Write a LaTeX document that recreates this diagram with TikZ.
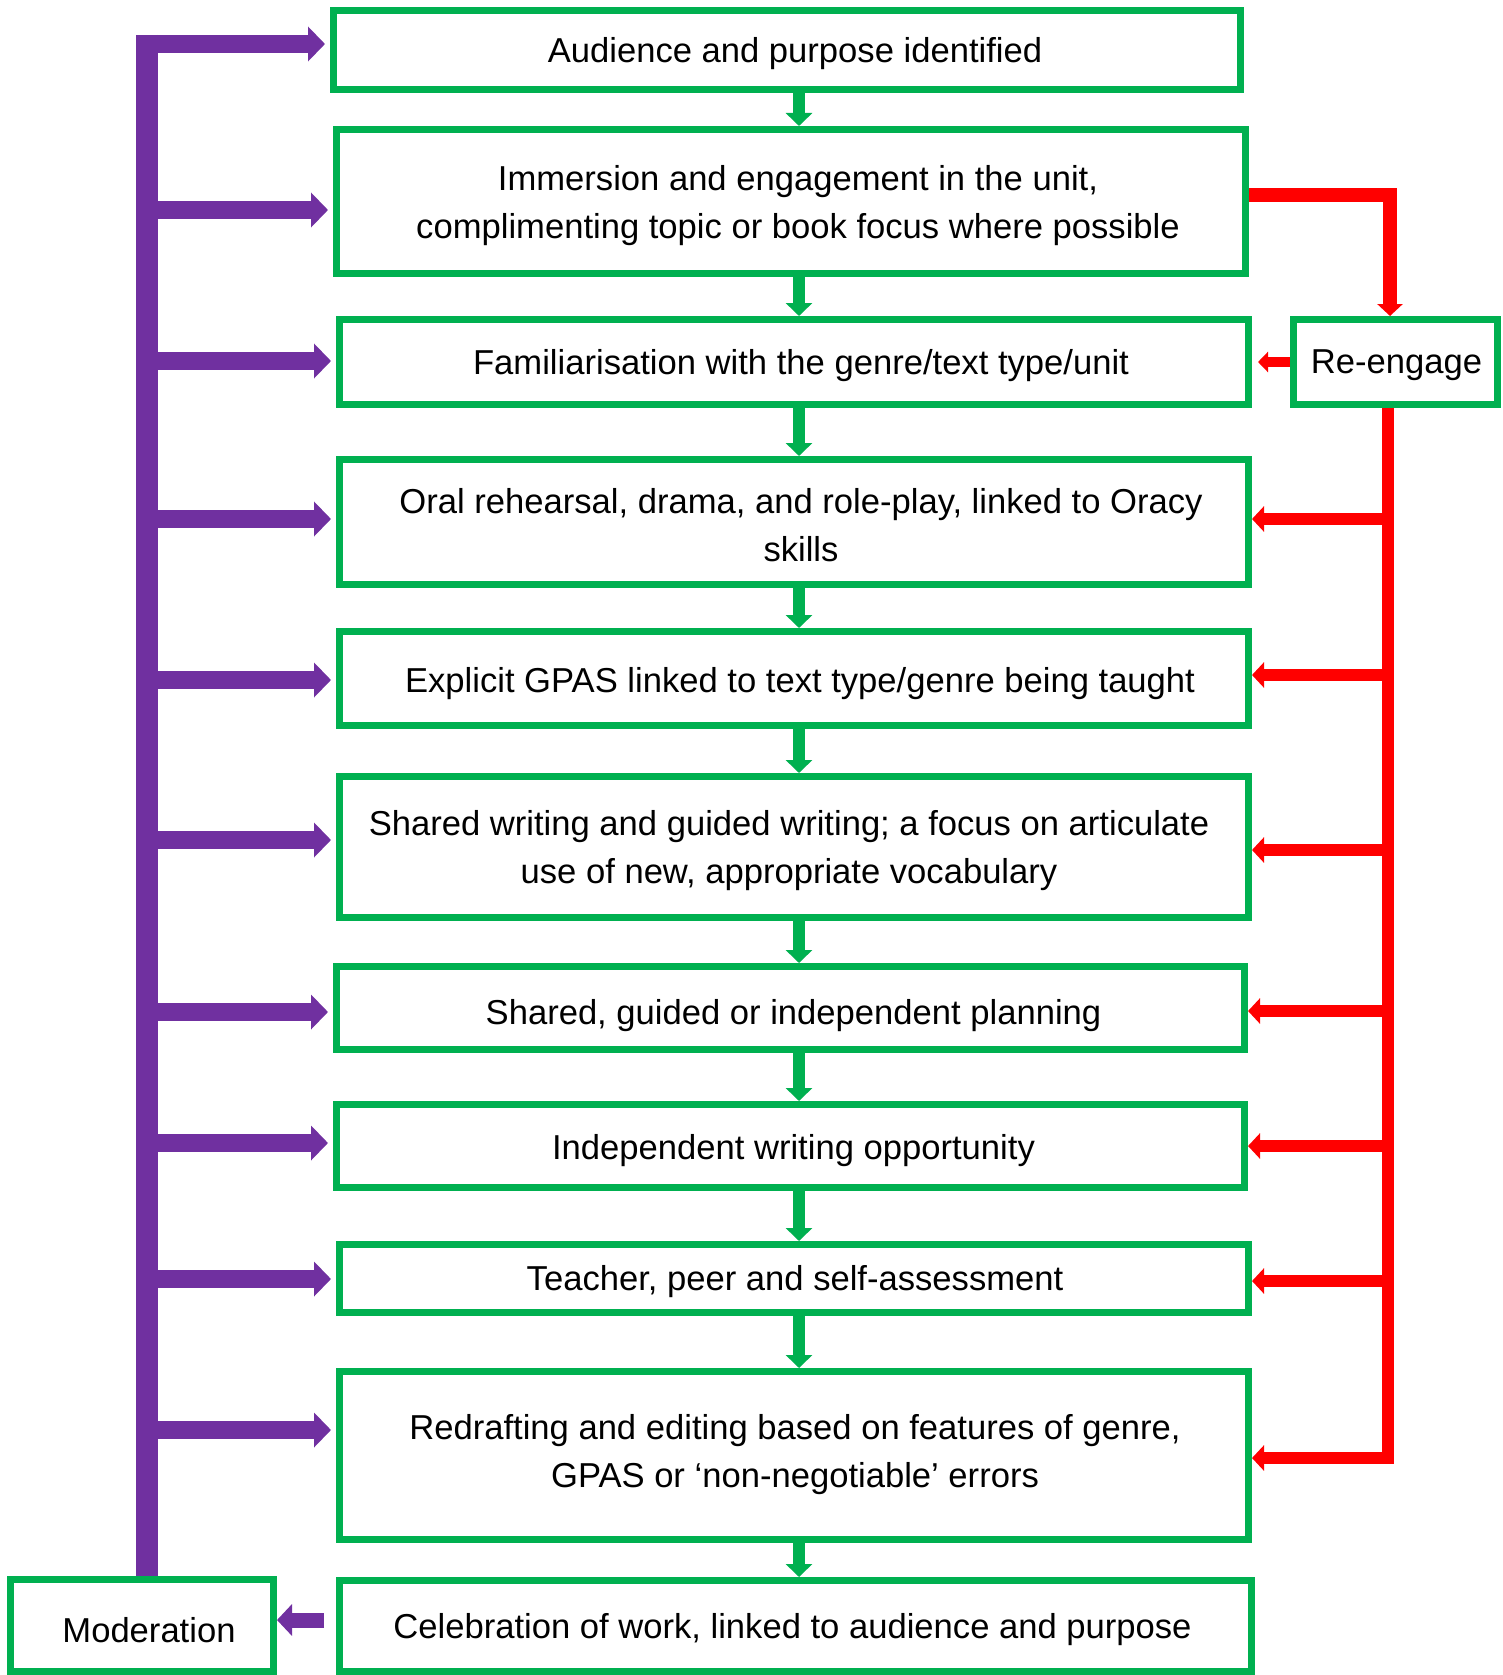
\documentclass[tikz,border=0pt]{standalone}
\usepackage{fontspec}
\setmainfont{Liberation Sans}
\usetikzlibrary{arrows.meta}
\definecolor{gr}{HTML}{00B050}
\definecolor{pu}{HTML}{7030A0}
\definecolor{rd}{HTML}{FF0000}
\begin{document}
\begin{tikzpicture}[x=1pt,y=-1pt,
  gbox/.style={draw=gr, line width=7pt, inner sep=0pt},
  txt/.style={inner sep=0pt, align=center, font=\fontsize{34.6}{48}\selectfont},
  garr/.style={draw=gr, line width=12pt, -{Triangle[length=13pt,width=26pt]}},
  parr/.style={draw=pu, line width=18pt, -{Triangle[length=17pt,width=34pt]}, shorten >=5pt},
  rarr/.style={draw=rd, line width=12pt, -{Triangle[length=12pt,width=25pt]}},
]
\useasboundingbox (0,0) rectangle (1503,1675);
\clip (0,0) rectangle (1503,1675);

\node[gbox, minimum width=907pt, minimum height=79pt] (b1) at (787,50) {};
\node[gbox, minimum width=909pt, minimum height=144pt] (b2) at (791,201.5) {};
\node[gbox, minimum width=909pt, minimum height=85pt] (b3) at (794,362) {};
\node[gbox, minimum width=909pt, minimum height=125pt] (b4) at (794,522) {};
\node[gbox, minimum width=909pt, minimum height=94pt] (b5) at (794,678.5) {};
\node[gbox, minimum width=909pt, minimum height=141pt] (b6) at (794,847) {};
\node[gbox, minimum width=908pt, minimum height=83pt] (b7) at (790.5,1008) {};
\node[gbox, minimum width=908pt, minimum height=83pt] (b8) at (790.5,1146) {};
\node[gbox, minimum width=909pt, minimum height=68pt] (b9) at (794,1278.5) {};
\node[gbox, minimum width=909pt, minimum height=168pt] (b10) at (794,1455.5) {};
\node[gbox, minimum width=912pt, minimum height=91pt] (b11) at (795.5,1626) {};
\node[gbox, minimum width=263pt, minimum height=92pt] (mod) at (142,1625.5) {};
\node[gbox, minimum width=204pt, minimum height=85pt] (re) at (1395.5,362) {};

\node[txt] (t1) at ([shift={(8,4)}]b1.center) {Audience and purpose identified};
\node[txt] (t2) at ([shift={(7,4)}]b2.center) {Immersion and engagement in the unit,\\complimenting topic or book focus where possible};
\node[txt] (t3) at ([shift={(7,4)}]b3.center) {Familiarisation with the genre/text type/unit};
\node[txt] (t4) at ([shift={(7,3)}]b4.center) {Oral rehearsal, drama, and role-play, linked to Oracy\\skills};
\node[txt] (t5) at ([shift={(6,5)}]b5.center) {Explicit GPAS linked to text type/genre being taught};
\node[txt] (t6) at ([shift={(-5,4)}]b6.center) {Shared writing and guided writing; a focus on articulate\\use of new, appropriate vocabulary};
\node[txt] (t7) at ([shift={(3,8)}]b7.center) {Shared, guided or independent planning};
\node[txt] (t8) at ([shift={(3,5)}]b8.center) {Independent writing opportunity};
\node[txt] (t9) at ([shift={(1,3)}]b9.center) {Teacher, peer and self-assessment};
\node[txt] (t10) at ([shift={(1,-1)}]b10.center) {Redrafting and editing based on features of genre,\\GPAS or ‘non-negotiable’ errors};
\node[txt] (t11) at ([shift={(-3,4)}]b11.center) {Celebration of work, linked to audience and purpose};
\node[txt] (tm) at ([shift={(7,5)}]mod.center) {Moderation};
\node[txt] (tr) at ([shift={(1,3)}]re.center) {Re-engage};

% green flow arrows
\coordinate (gx) at (799,0);
\foreach \a/\b in {b1/b2,b2/b3,b3/b4,b4/b5,b5/b6,b6/b7,b7/b8,b8/b9,b9/b10,b10/b11}
  \draw[garr] (\a.south -| gx) -- (\b.north -| gx);

% purple moderation bar
\coordinate (ptop) at (147,35);
\draw[pu, line width=22pt] (ptop) -- (ptop |- mod.north);
\foreach \n/\y in {b1/44,b2/210,b3/361,b4/519,b5/680,b6/840,b7/1012,b8/1143,b9/1279,b10/1430}{
  \coordinate (p\n) at (147,\y);
  \draw[parr] (p\n) -- (p\n -| \n.west);
}
\coordinate (pm) at (336,1620);
\draw[pu, line width=15pt, -{Triangle[length=15pt,width=31pt]}, shorten <=12pt] (pm -| b11.west) -- (pm -| mod.east);

% red re-engage loop
\coordinate (rt) at (1390,195);
\draw[rd, line width=14pt, line join=miter, -{Triangle[length=12pt,width=25pt]}] (rt -| b2.east) -- (rt) -- (rt |- re.north);
\draw[rd, line width=10pt, -{Triangle[length=10pt,width=20pt]}, shorten >=6pt] (re.west) -- (re.west -| b3.east);
\coordinate (rb) at (1388,1458);
\draw[rarr, line join=miter] (rb |- re.south) -- (rb) -- (rb -| b10.east);
\foreach \n/\y in {b4/519,b5/675,b6/850,b7/1011,b8/1146,b9/1281}{
  \coordinate (r\n) at (1388,\y);
  \draw[rarr] (r\n) -- (r\n -| \n.east);
}
\end{tikzpicture}
\end{document}
